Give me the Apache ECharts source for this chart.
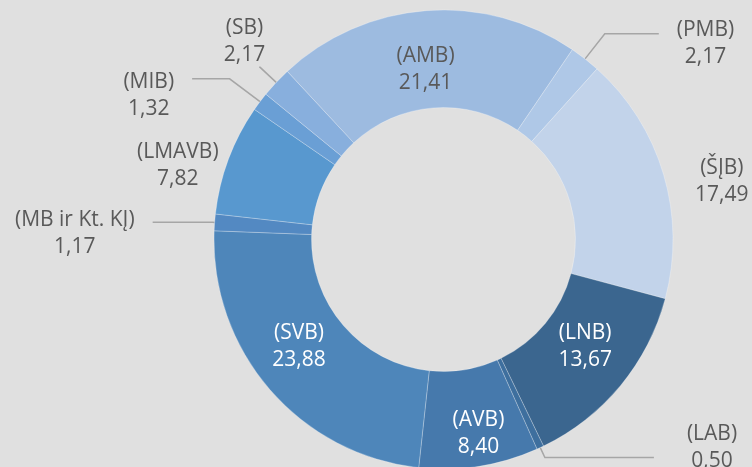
<!DOCTYPE html>
<html>
<head>
<meta charset="utf-8">
<style>
  html, body { margin: 0; padding: 0; background: #e0e0e0; }
  #chart { width: 752px; height: 467px; }
</style>
<script src="https://cdn.jsdelivr.net/npm/echarts@6/dist/echarts.min.js"></script>
</head>
<body>
<div id="chart"></div>
<script>
// slices, clockwise from the AMB slice
const names = ['AMB', 'PMB', 'ŠĮB', 'LNB', 'LAB', 'AVB', 'SVB', 'MB ir Kt. KĮ', 'LMAVB', 'MIB', 'SB']
const values = [21.41, 2.17, 17.49, 13.67, 0.50, 8.40, 23.88, 1.17, 7.82, 1.32, 2.17]

const sliceColors = ['#9dbbe0', '#afc8e7', '#c2d3ea', '#3b668f', '#3e6f9e', '#4679ac',
  '#4e86ba', '#5389c2', '#5898cf', '#6a9fd5', '#88afdd']

// label placement per slice: inside / outside, leader lengths, nudges
const labelSpec = {
  'AMB':          { inside: true, color: '#595959', padding: [27, 8, 0, 0] },
  'SVB':          { inside: true, color: '#ffffff', padding: [0, 11, 27, 0] },
  'LNB':          { inside: true, color: '#ffffff', padding: [0, 0, 21, 0] },
  'AVB':          { inside: true, color: '#ffffff', padding: [25, 0, 0, 13] },
  'PMB':          { len: 32, len2: 54, dist: 18, padding: [20, 0, 0, 0] },
  'ŠĮB':          { len: 10, len2: 10, dist: 12, padding: [21, 0, 0, 0], noLine: true },
  'LAB':          { len: 11, len2: 109, dist: 33, padding: [0, 0, 21, 0] },
  'SB':           { len: 22, len2: 1, dist: -6, padding: [0, 0, 51, 0] },
  'MIB':          { len: 38, len2: 37.5, dist: 18, padding: [34, 0, 0, 0] },
  'LMAVB':        { len: 2, len2: 1, dist: 7, padding: [13, 0, 0, 0], noLine: true },
  'MB ir Kt. KĮ': { len: 2, len2: 60, dist: 18, padding: [23, 0, 0, 0] }
}

const fmt = v => v.toFixed(2).replace('.', ',')

const chart = echarts.init(document.getElementById('chart'))

const pieData = names.map((name, i) => {
  const s = labelSpec[name]
  const color = s.color || '#595959'
  return {
    name,
    value: values[i],
    itemStyle: { color: sliceColors[i] },
    label: {
      position: s.inside ? 'inside' : 'outside',
      distanceToLabelLine: s.dist || 5,
      padding: s.padding,
      color,
      rich: { a: { align: 'center', color, fontSize: 21, lineHeight: 27, fontFamily: 'Open Sans' } }
    },
    labelLine: {
      show: !s.inside && !s.noLine,
      length: s.len || 0,
      length2: s.len2 || 0
    }
  }
})

chart.setOption({
  backgroundColor: '#e0e0e0',
  animation: false,
  series: [
    {
      type: 'pie',
      center: [443.5, 239.5],
      radius: [132, 229.5],
      startAngle: 132.9,
      clockwise: true,
      avoidLabelOverlap: false,
      silent: true,
      itemStyle: { borderColor: 'rgba(255,255,255,0.35)', borderWidth: 0.75 },
      label: {
        show: true,
        fontFamily: 'Open Sans',
        fontSize: 21,
        lineHeight: 27,
        formatter: p => `{a|(${p.name})}\n{a|${fmt(p.value)}}`
      },
      labelLine: {
        lineStyle: { color: '#a6a6a6', width: 1.5 }
      },
      emphasis: { disabled: true },
      data: pieData
    }
  ]
})
</script>
</body>
</html>
